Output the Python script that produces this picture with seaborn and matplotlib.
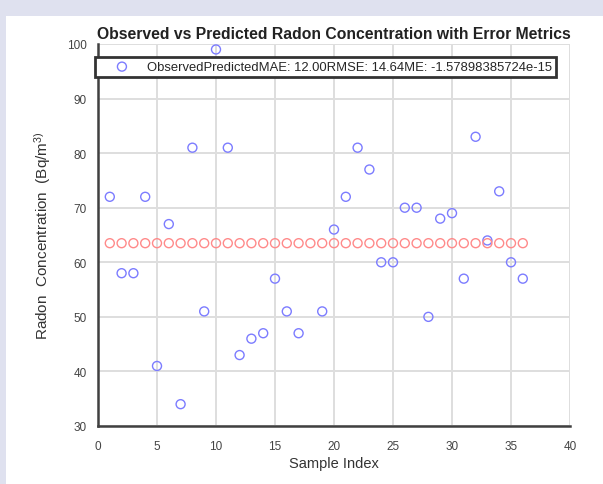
import numpy as np
import pandas as pd
import matplotlib.pyplot as plt
import matplotlib.patches as mpatches
import seaborn as sns

# data
sample_index = list(range(1, 37))
observed = [72, 58, 58, 72, 41, 67, 34, 81, 51, 99,
            81, 43, 46, 47, 57, 51, 47, 95, 51, 66,
            72, 81, 77, 60, 60, 70, 70, 50, 68, 69,
            57, 83, 64, 73, 60, 57]
predicted = [63.5] * 36
metrics_label = "ObservedPredictedMAE: 12.00RMSE: 14.64ME: -1.57898385724e-15"

df = pd.DataFrame({"idx": sample_index, "obs": observed, "pred": predicted})

sns.set_style("white")
plt.rcParams["font.family"] = ["Liberation Sans", "DejaVu Sans"]
plt.rcParams["mathtext.fontset"] = "custom"
plt.rcParams["mathtext.rm"] = "Liberation Sans"
plt.rcParams["mathtext.it"] = "Liberation Sans"

fig = plt.figure(figsize=(6.03, 4.85), dpi=100, facecolor="#dfe1ef")
# white panel inside the lavender frame
fig.add_artist(mpatches.Rectangle((6 / 603, 0), 1, 1 - 17 / 485,
                                  transform=fig.transFigure, facecolor="white",
                                  edgecolor="none", zorder=-1))
ax = fig.add_axes([98 / 603, 1 - 427 / 485, (570 - 98) / 603, (427 - 45) / 485])
ax.set_zorder(1)

sns.scatterplot(data=df, x="idx", y="obs", ax=ax, marker="o", s=42,
                facecolor="none", edgecolor="#7c7cff", linewidth=1.0,
                label=metrics_label, zorder=3)
sns.scatterplot(data=df, x="idx", y="pred", ax=ax, marker="o", s=42,
                facecolor="none", edgecolor="#ff8a8a", linewidth=1.0,
                label="_nolegend_", zorder=3)

ax.set_xlim(0, 40)
ax.set_ylim(30, 100)
ax.set_xticks(range(0, 41, 5))
ax.set_yticks(range(30, 101, 10))
ax.grid(True, color="#dedede", linewidth=1.4)
ax.set_axisbelow(True)
for s in ["top", "right"]:
    ax.spines[s].set_visible(False)
for s in ["left", "bottom"]:
    ax.spines[s].set_color("#404040")
    ax.spines[s].set_linewidth(1.8)
ax.tick_params(direction="in", length=5, width=1.8, color="#404040",
               labelsize=8.5, labelcolor="#444444")
ax.tick_params(axis="x", pad=10)
ax.tick_params(axis="y", pad=8)

ax.set_xlabel("Sample Index", fontsize=10.5, color="#333333", labelpad=3)
ax.set_ylabel(r"Radon  Concentration  (Bq/m$^{3)}$", fontsize=11, color="#333333", labelpad=10)
ax.set_title("Observed vs Predicted Radon Concentration with Error Metrics",
             fontsize=11.3, fontweight="bold", color="#222222", pad=4)

leg = ax.legend(loc="upper left", bbox_to_anchor=(-0.006, 0.966), fontsize=9.4,
                frameon=True, fancybox=False, borderpad=0.3, handlelength=3.5,
                handletextpad=0.15, borderaxespad=0, framealpha=1)
leg.set_zorder(10)
leg.get_frame().set_edgecolor("#333333")
leg.get_frame().set_linewidth(2)

fig.savefig("out.png", dpi=100, facecolor=fig.get_facecolor())
